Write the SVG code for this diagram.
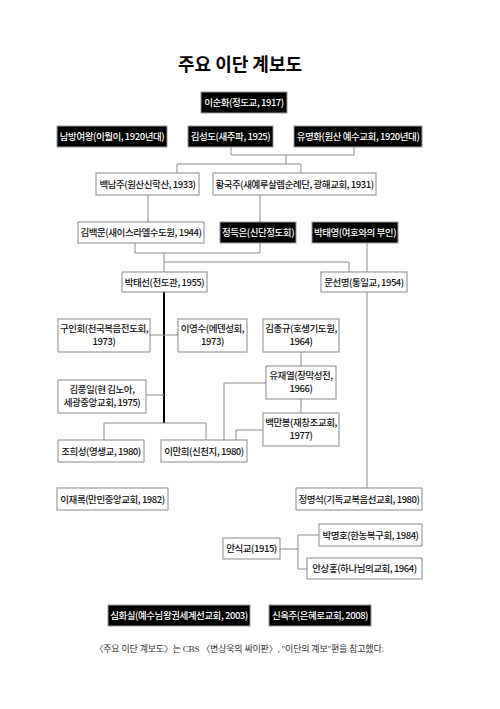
<svg xmlns="http://www.w3.org/2000/svg" width="500" height="709" viewBox="0 0 500 709">
<style>
.b{fill:#000;stroke:#999;stroke-width:1}
.w{fill:#fff;stroke:#888;stroke-width:1}
text{font-family:"Noto Sans CJK KR","Noto Sans",sans-serif;font-size:9.5px;font-weight:500;text-anchor:middle;letter-spacing:-0.45px}
.bt{fill:#fff}
.wt{fill:#111}
.title{font-size:18px;font-weight:bold;letter-spacing:0}
.cap{font-family:"Liberation Serif","Noto Sans CJK KR",serif;font-size:9px;font-weight:normal;fill:#333;letter-spacing:-0.2px}
.c{fill:none;stroke:#888;stroke-width:1}
.k{fill:none;stroke:#000;stroke-width:2}
</style>
<rect width="500" height="709" fill="#fff"/>
<text class="title" x="240" y="71">주요 이단 계보도</text>
<g id="connectors">
<path class="c" d="M231,147V155H354V147M286,155V164M177,173V164H301V173"/>
<path class="c" d="M148,195V222M260,195V222"/>
<path class="c" d="M135,243V253H260V243M164,253V272M164,262H349V272M367,243V272"/>
<path class="k" d="M164,292V423"/>
<path class="c" d="M104,440V423H206V440M150,335H178M146,395H164"/>
<path class="c" d="M301,352V366M301,399V413M266,383H224V440M263,430H236V440"/>
<path class="c" d="M367,292V488"/>
<path class="c" d="M280,549H298M319,535H298V569H307"/>
</g>
<g id="n1"><rect class="b" x="201" y="92" width="86" height="21"/><text class="bt" x="244" y="106">이순화(정도교, 1917)</text></g>
<g id="n2"><rect class="b" x="57" y="126" width="110" height="21"/><text class="bt" x="112" y="140">남방여왕(이월이, 1920년대)</text></g>
<g id="n3"><rect class="b" x="188" y="126" width="85" height="21"/><text class="bt" x="230.5" y="140">김성도(새주파, 1925)</text></g>
<g id="n4"><rect class="b" x="294" y="126" width="128" height="21"/><text class="bt" x="358" y="140">유명화(원산 예수교회, 1920년대)</text></g>
<g id="n5"><rect class="w" x="96" y="173" width="103" height="22"/><text class="wt" x="147.5" y="187.5">백남주(원산신학산, 1933)</text></g>
<g id="n6"><rect class="w" x="213" y="173" width="163" height="22"/><text class="wt" x="294.5" y="187.5">황국주(새예루살렘순례단, 광해교회, 1931)</text></g>
<g id="n7"><rect class="w" x="78" y="222" width="126" height="21"/><text class="wt" x="141" y="236">김백문(새이스라엘수도원, 1944)</text></g>
<g id="n8"><rect class="b" x="220" y="222" width="76" height="21"/><text class="bt" x="258" y="236">정득은(신단정도회)</text></g>
<g id="n9"><rect class="b" x="312" y="222" width="86" height="21"/><text class="bt" x="355" y="236">박태영(여호와의 부인)</text></g>
<g id="n10"><rect class="w" x="122" y="272" width="85" height="20"/><text class="wt" x="164.5" y="285.5">박태선(전도관, 1955)</text></g>
<g id="n11"><rect class="w" x="321" y="272" width="86" height="20"/><text class="wt" x="364" y="285.5">문선명(통일교, 1954)</text></g>
<g id="n12"><rect class="w" x="58" y="319" width="92" height="33"/><text class="wt" x="104" y="332">구인회(천국복음전도회,</text><text class="wt" x="104" y="345">1973)</text></g>
<g id="n13"><rect class="w" x="178" y="319" width="69" height="33"/><text class="wt" x="212.5" y="332">이영수(에덴성회,</text><text class="wt" x="212.5" y="345">1973)</text></g>
<g id="n14"><rect class="w" x="263" y="319" width="76" height="33"/><text class="wt" x="301" y="332">김종규(호생기도원,</text><text class="wt" x="301" y="345">1964)</text></g>
<g id="n15"><rect class="w" x="266" y="366" width="70" height="33"/><text class="wt" x="301" y="379">유재열(장막성전,</text><text class="wt" x="301" y="392">1966)</text></g>
<g id="n16"><rect class="w" x="58" y="380" width="88" height="33"/><text class="wt" x="102" y="393">김풍일(현 김노아,</text><text class="wt" x="102" y="406">세광중앙교회, 1975)</text></g>
<g id="n17"><rect class="w" x="263" y="413" width="76" height="33"/><text class="wt" x="301" y="426">백만봉(재창조교회,</text><text class="wt" x="301" y="439">1977)</text></g>
<g id="n18"><rect class="w" x="58" y="440" width="86" height="22"/><text class="wt" x="101" y="454.5">조희성(영생교, 1980)</text></g>
<g id="n19"><rect class="w" x="161" y="440" width="86" height="22"/><text class="wt" x="204" y="454.5">이만희(신천지, 1980)</text></g>
<g id="n20"><rect class="w" x="57" y="488" width="111" height="22"/><text class="wt" x="112.5" y="502.5">이재록(만민중앙교회, 1982)</text></g>
<g id="n21"><rect class="w" x="296" y="488" width="126" height="22"/><text class="wt" x="359" y="502.5">정명석(기독교복음선교회, 1980)</text></g>
<g id="n22"><rect class="w" x="319" y="524" width="103" height="22"/><text class="wt" x="370.5" y="538.5">박명호(한농복구회, 1984)</text></g>
<g id="n23"><rect class="w" x="223" y="538" width="57" height="21"/><text class="wt" x="251.5" y="552">안식교(1915)</text></g>
<g id="n24"><rect class="w" x="307" y="558" width="115" height="21"/><text class="wt" x="364.5" y="572">안상홍(하나님의교회, 1964)</text></g>
<g id="n25"><rect class="b" x="108" y="605" width="142" height="21"/><text class="bt" x="179" y="619">심화실(예수님왕권세계선교회, 2003)</text></g>
<g id="n26"><rect class="b" x="269" y="605" width="102" height="21"/><text class="bt" x="320" y="619">신옥주(은혜로교회, 2008)</text></g>
<text class="cap" x="239" y="652">〈주요 이단 계보도〉는 CBS 〈변상욱의 싸이판〉, "이단의 계보"편을 참고했다.</text>
</svg>
